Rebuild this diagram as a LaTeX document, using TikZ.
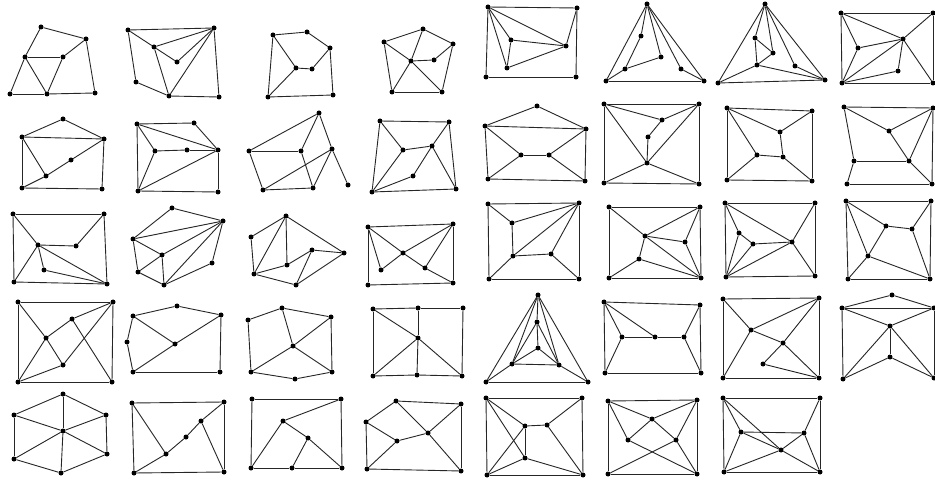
\documentclass[tikz,border=0pt]{standalone}
\tikzset{
  dot/.style={circle,fill=black,inner sep=0pt,minimum size=5pt},
  edge/.style={draw=black!85,line width=0.9pt}
}
\newcommand\mygr[3]{%
  \foreach \n/\x/\y in {#2} \node[dot] (#1\n) at (\x,\y) {};
  \foreach \u/\v in {#3} \draw[edge] (#1\u) -- (#1\v);
}
\begin{document}
\begin{tikzpicture}[x=1pt,y=-1pt]
\fill[white] (0,0) rectangle (935,481);
\useasboundingbox (0,0) rectangle (935,481);
% Row 1
\mygr{ga}{a/41/27,b/86/39,c/25/57,d/63/57,e/10/94,f/47/94,g/95/93}{a/b,a/c,b/d,b/g,c/d,c/e,c/f,d/f,e/f,f/g}
\mygr{gb}{a/128/30,b/214/28,c/154/47,d/177/62,e/136/82,f/169/96,g/219/97}{a/b,a/c,a/e,c/b,c/d,c/f,d/b,b/f,b/g,e/f,f/g}
\mygr{gc}{a/273/35,b/307/32,c/330/48,d/296/68,e/312/69,f/268/97,g/333/95}{a/b,b/c,c/e,e/d,d/a,d/f,a/f,c/g,f/g}
\mygr{gd}{a/384/42,b/423/29,c/453/44,d/411/61,e/434/60,f/392/92,g/442/92}{a/b,b/c,a/d,b/d,d/e,e/c,c/g,a/f,d/f,d/g,f/g}
\mygr{ge}{a/488/7,b/577/8,c/511/40,d/566/46,e/507/68,f/486/77,g/576/77}{a/b,b/d,a/d,a/c,a/e,c/d,c/e,e/d,a/f,f/g,g/b}
\mygr{gf}{t/647/4,p/641/36,q/661/57,r/625/69,s/681/69,l/606/81,m/704/81}{t/l,t/m,l/m,t/p,p/r,r/q,t/q,t/s,s/m,l/r}
\mygr{gg}{t/765/4,p/755/38,q/773/53,r/757/65,s/795/66,l/718/83,m/825/80}{t/l,t/m,l/m,t/p,t/q,t/s,p/q,p/r,q/r,r/l,r/m,s/m}
\mygr{gh}{a/841/13,b/933/13,c/858/48,d/903/39,e/898/71,f/842/83,g/933/83}{a/b,a/d,a/c,c/d,c/f,a/f,d/b,d/e,d/g,d/f,e/f,f/g,b/g}
% Row 2
\mygr{gi}{a/63/119,b/22/137,c/104/139,d/71/160,e/46/176,f/22/188,g/102/189}{a/b,a/c,b/c,b/e,b/f,e/d,d/c,f/e,f/g,g/c}
\mygr{gj}{a/137/124,b/194/123,c/155/151,d/187/150,e/218/150,f/138/191,g/218/192}{a/b,b/e,a/e,a/c,c/d,d/e,c/f,a/f,f/e,e/g,f/g}
\mygr{gk}{a/319/113,b/249/151,c/301/151,d/332/149,e/263/190,f/313/188,g/348/185}{a/b,a/c,a/d,b/c,b/e,c/f,e/f,e/d,d/f,d/g}
\mygr{gl}{a/380/121,b/449/122,c/403/150,d/432/146,e/413/176,f/372/192,g/456/189}{a/b,a/c,a/f,b/d,b/g,c/d,c/f,d/e,e/f,d/g,f/g}
\mygr{gm}{a/537/106,b/485/126,c/586/129,d/521/155,e/549/155,f/488/179,g/585/181}{a/b,a/c,b/c,b/d,d/e,e/c,d/f,e/g,b/f,c/g,f/g}
\mygr{gn}{a/604/104,b/699/104,c/662/120,d/648/137,e/647/163,f/604/183,g/699/184}{a/b,a/c,c/b,c/d,d/e,a/e,b/e,e/f,e/g,a/f,b/g,f/g}
\mygr{go}{a/727/108,b/812/111,c/780/132,d/757/155,e/783/157,f/727/180,g/812/181}{a/b,a/c,c/b,a/d,d/e,c/e,d/f,e/g,a/f,b/g,f/g}
\mygr{gp}{a/844/107,b/933/108,c/889/131,d/854/161,e/909/161,f/847/184,g/932/184}{a/b,a/c,c/b,c/e,b/e,e/g,a/d,d/e,d/f,f/g,b/g}
% Row 3
\mygr{gq}{a/13/214,b/104/214,c/38/245,d/76/246,e/44/270,f/14/282,g/107/284}{a/b,a/c,a/f,b/d,b/g,c/d,c/f,c/e,c/g,e/g,f/g}
\mygr{gr}{a/172/208,b/223/221,c/133/239,d/162/255,e/138/272,f/212/263,g/164/285}{a/b,a/c,c/b,c/d,c/e,d/b,d/e,d/g,e/g,g/b,g/f,f/b}
\mygr{gs}{a/286/216,b/251/237,c/287/265,d/312/250,e/344/253,f/254/274,g/296/285}{a/b,a/c,a/f,a/e,b/f,f/c,c/d,d/e,d/g,e/g,f/g}
\mygr{gt}{a/368/227,b/453/224,c/403/253,d/381/270,e/425/268,f/368/285,g/453/283}{a/b,a/c,c/e,e/g,b/c,c/d,b/e,a/d,a/f,f/g,b/g}
\mygr{gu}{a/488/204,b/579/203,c/512/223,d/513/256,e/551/254,f/489/279,g/579/279}{a/b,a/c,c/b,c/d,d/b,d/e,e/b,d/f,e/g,a/f,b/g,f/g}
\mygr{gv}{a/609/207,b/700/207,c/645/236,d/685/242,e/639/259,f/609/278,g/701/278}{a/b,a/c,c/b,c/d,d/b,c/e,c/g,d/g,e/f,e/g,a/f,b/g,f/g}
\mygr{gw}{a/725/203,b/815/203,c/739/233,d/753/244,e/792/242,f/726/277,g/815/276}{a/b,a/c,a/e,b/e,c/d,c/f,d/e,d/f,e/f,e/g,a/f,b/g,f/g}
\mygr{gx}{a/846/201,b/931/201,c/886/226,d/912/229,e/868/256,f/848/279,g/930/279}{a/b,a/c,a/e,a/f,c/d,d/b,c/e,e/f,e/g,d/g,b/g,f/g}
% Row 4
\mygr{gy}{a/18/302,b/113/302,c/46/338,d/72/319,e/63/365,f/18/382,g/112/382}{a/b,a/c,c/d,d/b,c/f,c/e,d/g,e/b,e/f,a/f,f/g,b/g}
\mygr{gz}{a/177/306,b/133/316,c/221/315,d/127/342,e/175/344,f/133/372,g/220/372}{a/b,a/c,b/e,c/e,e/f,b/d,d/f,f/g,c/g}
\mygr{hA}{a/282/308,b/248/320,c/331/317,d/293/346,e/251/372,f/295/379,g/332/372}{a/b,a/c,a/d,b/e,c/d,c/g,d/e,d/g,e/f,f/g}
\mygr{hB}{a/373/309,b/418/308,c/463/308,d/418/338,e/373/376,f/417/375,g/462/376}{a/b,b/c,a/e,c/g,b/d,d/f,a/d,d/e,d/g,e/f,f/g}
\mygr{hC}{t/538/295,p/537/322,q/538/348,k/512/364,r/559/365,l/486/382,m/588/382}{t/l,t/m,l/m,t/p,p/q,p/k,p/r,q/k,q/r,k/r,t/k,t/r,l/k,m/r}
\mygr{hD}{a/604/302,b/700/305,c/622/337,d/655/337,e/684/337,f/605/373,g/701/373}{a/b,a/c,a/d,c/d,d/e,e/b,e/g,c/f,a/f,f/g,b/g}
\mygr{hE}{a/723/299,b/819/298,c/751/330,d/783/343,e/763/364,f/723/378,g/819/378}{a/b,a/c,c/b,c/d,c/f,b/d,d/e,e/g,d/g,a/f,f/g,b/g}
\mygr{hF}{a/892/295,b/842/308,c/934/308,d/890/326,e/890/357,f/843/379,g/934/378}{a/b,a/c,b/c,b/d,d/c,d/e,d/f,d/g,e/f,e/g,b/f,c/g}
% Row 5
\mygr{hG}{a/63/394,b/14/415,c/106/415,d/63/431,e/14/459,f/107/454,g/61/473}{a/b,a/c,a/d,b/d,c/d,b/e,c/f,e/d,f/d,e/g,f/g,g/d}
\mygr{hH}{a/132/403,b/224/402,c/201/421,d/186/437,e/166/454,f/134/473,g/224/472}{a/b,b/c,c/d,d/e,e/a,e/f,c/g,a/f,b/g,f/g}
\mygr{hI}{a/252/399,b/341/399,c/283/421,d/308/438,e/251/468,f/292/468,g/342/468}{a/b,c/b,c/e,c/d,d/f,d/g,a/e,e/f,f/g,b/g}
\mygr{hJ}{a/396/401,b/461/404,c/366/422,d/397/441,e/428/433,f/367/469,g/461/471}{a/b,a/c,a/e,b/e,c/d,d/e,d/f,c/f,e/g,b/g,f/g}
\mygr{hK}{a/486/398,b/582/398,c/525/426,d/547/425,e/525/458,f/487/475,g/583/475}{a/b,a/c,c/d,d/b,c/e,a/e,c/f,e/f,e/g,d/g,f/g,a/f,b/g}
\mygr{hL}{a/608/401,b/697/400,c/652/419,d/628/440,e/676/440,f/608/474,g/697/474}{a/b,a/c,c/b,a/d,c/d,c/e,b/e,d/g,e/f,e/g,a/f,b/g,f/g}
\mygr{hM}{a/723/398,b/820/398,c/741/432,d/804/433,e/781/450,f/724/472,g/820/472}{a/b,a/c,a/e,c/d,c/e,e/g,e/d,d/b,d/g,c/f,e/f,a/f,f/g,b/g}
\end{tikzpicture}
\end{document}
